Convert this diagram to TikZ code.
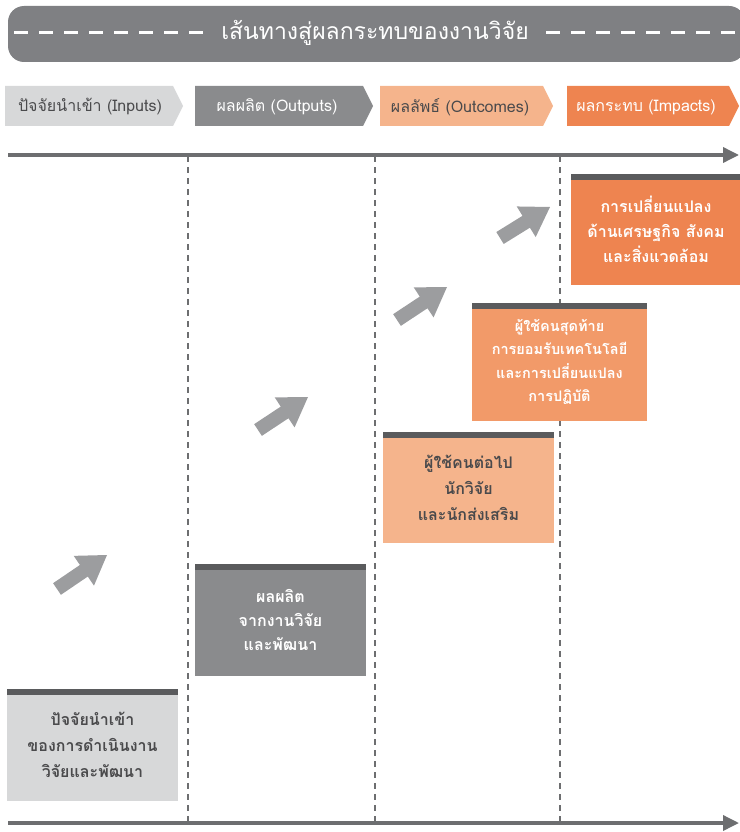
\documentclass[tikz,border=0pt]{standalone}
\usepackage{fontspec}
\setmainfont[Script=Thai]{Loma}
\usetikzlibrary{calc,arrows.meta}
\definecolor{banner}{HTML}{7F8083}
\definecolor{darktxt}{HTML}{4A4A4C}
\definecolor{lgray}{HTML}{D7D8D9}
\definecolor{mgray}{HTML}{8A8B8D}
\definecolor{lorange}{HTML}{F5B48C}
\definecolor{morange}{HTML}{F29A69}
\definecolor{dorange}{HTML}{EE8450}
\definecolor{barcol}{HTML}{5A5B5D}
\definecolor{linecol}{HTML}{6D6E70}
\definecolor{arrcol}{HTML}{9C9D9F}
\tikzset{
  tabtext/.style={font=\fontsize{16}{18}\selectfont, inner sep=0pt, anchor=center},
  boxnode/.style={rectangle, inner sep=0pt, minimum width=171pt, minimum height=111pt,
    align=center, font=\bfseries\fontsize{16}{26}\selectfont},
  timeline/.style={draw=linecol, line width=3.5pt, -{Triangle[length=16pt,width=15pt]}},
  divider/.style={draw=linecol, line width=1.4pt, dash pattern=on 6pt off 5pt},
  titledash/.style={draw=white, line width=3pt, dash pattern=on 14pt off 11pt},
}
\newcommand{\topbar}[1]{\fill[barcol] (#1.north west) rectangle ([yshift=-6pt]#1.north east);}
\newcommand{\blockarrow}[2]{%
  \fill[arrcol] ($(#1)!7pt!90:(#2)$) -- ($($(#2)!28pt!(#1)$)!7pt!90:(#2)$)
    -- ($($(#2)!28pt!(#1)$)!18pt!90:(#2)$) -- (#2)
    -- ($($(#2)!28pt!(#1)$)!18pt!-90:(#2)$) -- ($($(#2)!28pt!(#1)$)!7pt!-90:(#2)$)
    -- ($(#1)!7pt!-90:(#2)$) -- cycle;}
\begin{document}
\begin{tikzpicture}[x=1pt,y=-1pt]
\useasboundingbox (0,0) rectangle (739,832);
% title banner
\fill[banner, rounded corners=16pt] (8,6) rectangle (745,62);
\node[text=white, font=\fontsize{23}{26}\selectfont, inner sep=0pt] (title) at (375,33) {เส้นทางสู่ผลกระทบของงานวิจัย};
\coordinate (dl1) at (14,33); \coordinate (dl2) at (205,33);
\coordinate (dr1) at (546,33); \coordinate (dr2) at (737,33);
\draw[titledash] (dl1) -- (dl2);
\draw[titledash] (dr1) -- (dr2);
% tabs
\fill[lgray] (5,86) -- (173,86) -- (183,106) -- (173,126) -- (5,126) -- cycle;
\node[tabtext, text=darktxt] (tab1) at (90,107) {ปัจจัยนำเข้า (Inputs)};
\fill[mgray] (195,86) -- (363,86) -- (373,106) -- (363,126) -- (195,126) -- cycle;
\node[tabtext, text=white] (tab2) at (277,107) {ผลผลิต (Outputs)};
\fill[lorange] (380,86) -- (543,86) -- (553,106) -- (543,126) -- (380,126) -- cycle;
\node[tabtext, text=darktxt] (tab3) at (460,107) {ผลลัพธ์ (Outcomes)};
\fill[dorange] (567,86) -- (729,86) -- (739,106) -- (729,126) -- (567,126) -- cycle;
\node[tabtext, text=white] (tab4) at (646,107) {ผลกระทบ (Impacts)};
% timelines
\coordinate (t1) at (8,155); \coordinate (t2) at (739,155);
\draw[timeline] (t1) -- (t2);
\coordinate (u1) at (8,823); \coordinate (u2) at (739,823);
\draw[timeline] (u1) -- (u2);
% dividers
\foreach \x/\n in {188/a,375/b,560/c}{
  \coordinate (d\n1) at (\x,156); \coordinate (d\n2) at (\x,822);
  \draw[divider] (d\n1) -- (d\n2);
}
% boxes
\node[boxnode, fill=lgray, text=darktxt] (b1) at (92.5,745) {ปัจจัยนำเข้า\\ของการดำเนินงาน\\วิจัยและพัฒนา};
\topbar{b1}
\node[boxnode, fill=mgray, text=white, font=\bfseries\fontsize{16}{24}\selectfont] (b2) at (280.5,620) {ผลผลิต\\จากงานวิจัย\\และพัฒนา};
\topbar{b2}
\node[boxnode, fill=lorange, text=darktxt] (b3) at (468.5,487.5) {ผู้ใช้คนต่อไป\\นักวิจัย\\และนักส่งเสริม};
\topbar{b3}
\node[boxnode, fill=morange, text=white, minimum width=175pt, minimum height=118pt, font=\bfseries\fontsize{14.5}{23.5}\selectfont] (b4) at (559.5,362) {ผู้ใช้คนสุดท้าย\\การยอมรับเทคโนโลยี\\และการเปลี่ยนแปลง\\การปฏิบัติ};
\topbar{b4}
\node[boxnode, fill=dorange, text=white, minimum width=170pt, font=\bfseries\fontsize{16}{25}\selectfont] (b5) at (656,229.5) {การเปลี่ยนแปลง\\ด้านเศรษฐกิจ สังคม\\และสิ่งแวดล้อม};
\topbar{b5}
% block arrows
\coordinate (a1s) at (57,589); \coordinate (a1e) at (107,555);
\coordinate (a2s) at (258,430); \coordinate (a2e) at (308,397);
\coordinate (a3s) at (397,320); \coordinate (a3e) at (447,287);
\coordinate (a4s) at (500,238); \coordinate (a4e) at (550,207);
\blockarrow{a1s}{a1e}
\blockarrow{a2s}{a2e}
\blockarrow{a3s}{a3e}
\blockarrow{a4s}{a4e}
\end{tikzpicture}
\end{document}
